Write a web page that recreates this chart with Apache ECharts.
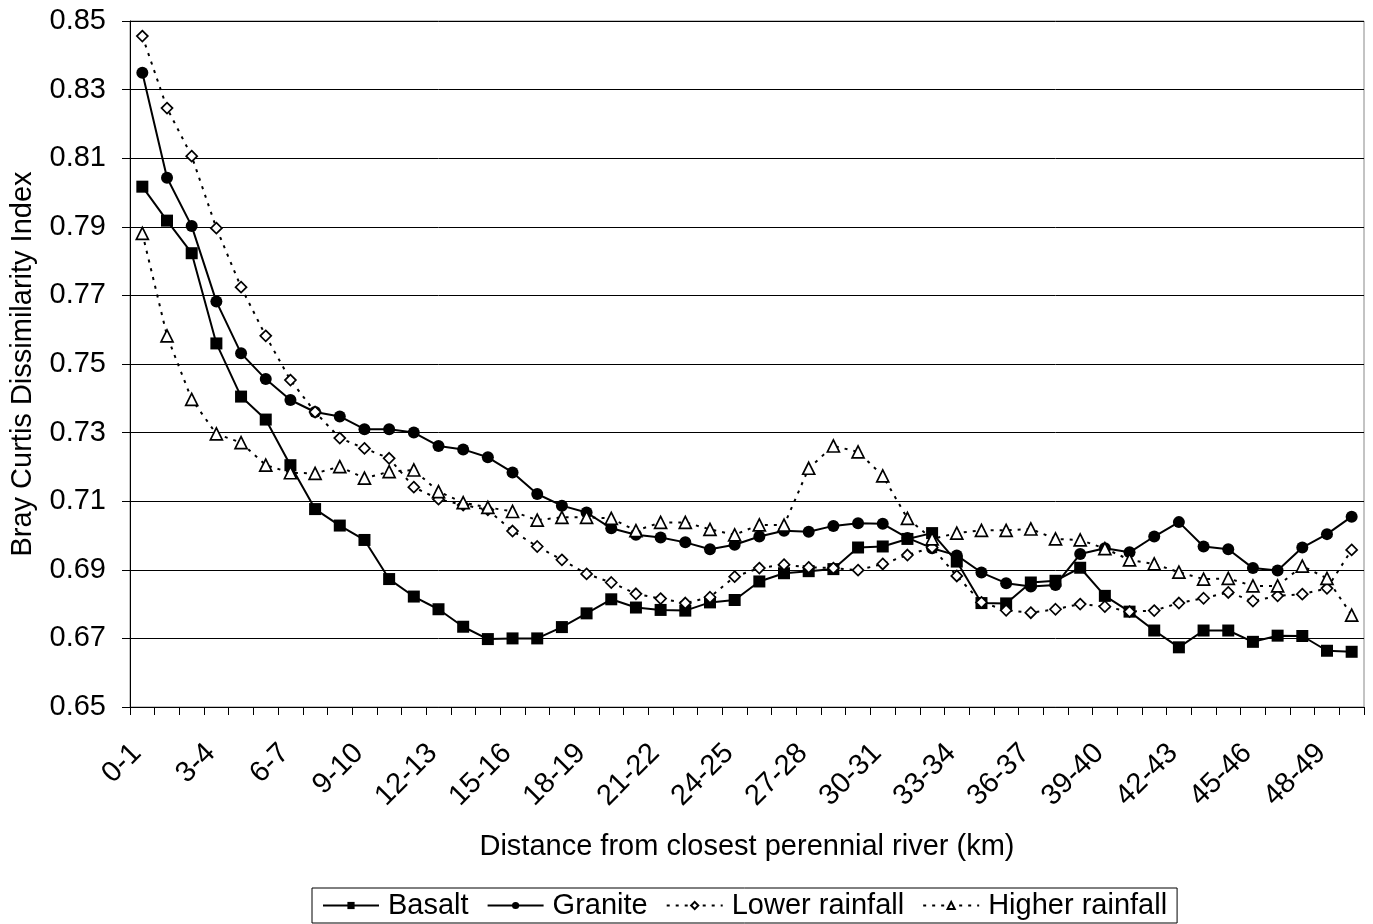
<!DOCTYPE html>
<html>
<head>
<meta charset="utf-8">
<script src="https://cdn.jsdelivr.net/npm/echarts@6/dist/echarts.min.js"></script>
<style>
html,body{margin:0;padding:0;background:#fff;}
#chart{width:1373px;height:924px;}
</style>
</head>
<body>
<div id="chart"></div>
<script>
const categories = ['0-1','1-2','2-3','3-4','4-5','5-6','6-7','7-8','8-9','9-10',
  '10-11','11-12','12-13','13-14','14-15','15-16','16-17','17-18','18-19','19-20',
  '20-21','21-22','22-23','23-24','24-25','25-26','26-27','27-28','28-29','29-30',
  '30-31','31-32','32-33','33-34','34-35','35-36','36-37','37-38','38-39','39-40',
  '40-41','41-42','42-43','43-44','44-45','45-46','46-47','47-48','48-49','49-50'];

const basalt = [0.8017,0.7918,0.7823,0.7560,0.7405,0.7338,0.7205,0.7077,0.7029,0.6987,
  0.6873,0.6822,0.6785,0.6734,0.6698,0.6700,0.6700,0.6733,0.6773,0.6814,
  0.6790,0.6783,0.6781,0.6805,0.6812,0.6866,0.6890,0.6896,0.6902,0.6965,
  0.6968,0.6990,0.7007,0.6924,0.6803,0.6802,0.6863,0.6868,0.6906,0.6824,
  0.6778,0.6723,0.6674,0.6723,0.6723,0.6690,0.6708,0.6707,0.6664,0.6661];

const granite = [0.8349,0.8043,0.7902,0.7682,0.7531,0.7456,0.7395,0.7360,0.7347,0.7310,
  0.7310,0.7300,0.7261,0.7251,0.7228,0.7184,0.7121,0.7087,0.7067,0.7021,
  0.7002,0.6994,0.6980,0.6960,0.6973,0.6997,0.7014,0.7011,0.7028,0.7036,
  0.7034,0.6993,0.6963,0.6942,0.6892,0.6861,0.6851,0.6856,0.6946,0.6963,
  0.6951,0.6997,0.7039,0.6968,0.6960,0.6905,0.6898,0.6965,0.7004,0.7055];

const lowerRainfall = [0.8456,0.8246,0.8106,0.7896,0.7724,0.7582,0.7453,0.7360,0.7284,0.7254,
  0.7225,0.7141,0.7106,0.7089,0.7075,0.7013,0.6968,0.6929,0.6888,0.6863,
  0.6830,0.6816,0.6803,0.6820,0.6880,0.6905,0.6915,0.6907,0.6905,0.6899,
  0.6917,0.6943,0.6965,0.6882,0.6805,0.6782,0.6775,0.6785,0.6800,0.6793,
  0.6778,0.6781,0.6803,0.6817,0.6834,0.6809,0.6824,0.6829,0.6846,0.6958];

const higherRainfall = [0.7881,0.7582,0.7397,0.7296,0.7271,0.7205,0.7183,0.7181,0.7201,0.7167,
  0.7186,0.7191,0.7128,0.7096,0.7082,0.7070,0.7045,0.7053,0.7053,0.7050,
  0.7014,0.7038,0.7038,0.7018,0.7002,0.7031,0.7030,0.7196,0.7261,0.7244,
  0.7174,0.7050,0.6990,0.7007,0.7015,0.7015,0.7019,0.6990,0.6987,0.6962,
  0.6929,0.6917,0.6893,0.6873,0.6875,0.6853,0.6853,0.6911,0.6875,0.6768];

const FONT = '"Liberation Sans", Arial, sans-serif';
const FS = 29;
const chart = echarts.init(document.getElementById('chart'), null, {renderer: 'canvas'});

function solidSeries(name, data, symbol, size) {
  return {
    name, type: 'line', data, symbol, symbolSize: size,
    lineStyle: {color: '#000', width: 2, type: 'solid'},
    itemStyle: {color: '#000', borderColor: '#000', borderWidth: 0},
    emphasis: {disabled: true}
  };
}
function dottedSeries(name, data, symbol, size) {
  return {
    name, type: 'line', data, symbol, symbolSize: size,
    lineStyle: {color: '#000', width: 2, type: [3, 6]},
    itemStyle: {color: '#fff', borderColor: '#000', borderWidth: 1.7},
    emphasis: {disabled: true}
  };
}

chart.setOption({
  animation: false,
  backgroundColor: '#fff',
  textStyle: {fontFamily: FONT, color: '#000'},
  grid: {left: 129, right: 9, top: 21, bottom: 217, show: true, borderColor: '#888', borderWidth: 1},
  xAxis: {
    type: 'category',
    data: categories,
    boundaryGap: true,
    axisLine: {lineStyle: {color: '#000', width: 1}},
    axisTick: {show: true, interval: 0, length: 8, lineStyle: {color: '#000'}},
    axisLabel: {interval: 2, rotate: 45, fontSize: FS, color: '#000', fontFamily: FONT,
      margin: 36, padding: [0, 8, 0, 0]},
    name: 'Distance from closest perennial river (km)',
    nameLocation: 'middle',
    nameGap: 125,
    nameTextStyle: {fontSize: FS, color: '#000', fontFamily: FONT}
  },
  yAxis: {
    type: 'value',
    min: 0.65, max: 0.85, interval: 0.02,
    axisLine: {show: true, lineStyle: {color: '#000', width: 1}},
    axisTick: {show: true, length: 8, lineStyle: {color: '#000'}},
    axisLabel: {fontSize: FS, color: '#000', fontFamily: FONT, margin: 24,
      formatter: v => v.toFixed(2)},
    splitLine: {show: true, lineStyle: {color: '#000', width: 1}},
    name: 'Bray Curtis Dissimilarity Index',
    nameLocation: 'middle',
    nameGap: 93,
    nameRotate: 90,
    nameTextStyle: {fontSize: FS, color: '#000', fontFamily: FONT}
  },
  legend: {
    bottom: 1,
    left: 312,
    orient: 'horizontal',
    borderColor: '#000',
    borderWidth: 1,
    borderRadius: 0,
    padding: [3, 10, 3, 10],
    itemGap: 18,
    itemWidth: 56,
    itemHeight: 9,
    textStyle: {fontSize: FS, color: '#000', fontFamily: FONT, padding: [0, 0, 0, 4]},
    data: ['Basalt', 'Granite', 'Lower rainfall', 'Higher rainfall']
  },
  series: [
    solidSeries('Basalt', basalt, 'rect', 12),
    solidSeries('Granite', granite, 'circle', 12),
    dottedSeries('Lower rainfall', lowerRainfall, 'diamond', 11),
    dottedSeries('Higher rainfall', higherRainfall, 'triangle', 12)
  ]
});
</script>
</body>
</html>
